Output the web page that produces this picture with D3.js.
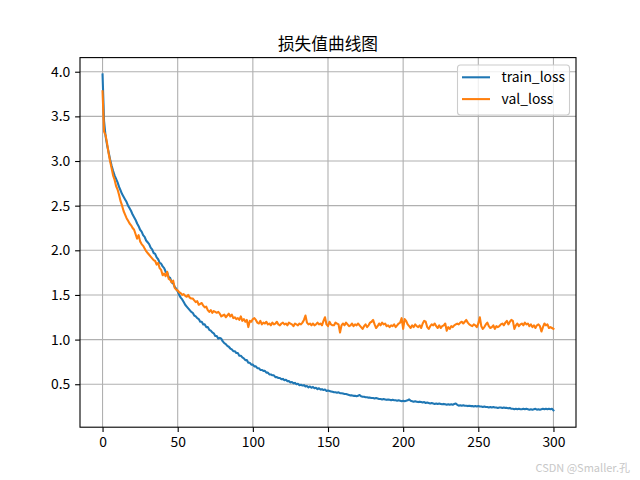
<!DOCTYPE html>
<html><head><meta charset="utf-8">
<script src="https://cdn.jsdelivr.net/npm/d3@7"></script>
<style>body{margin:0;background:#fff}svg{display:block}</style>
</head><body>
<script>
const title = "损失值曲线图";
const seriesNames = ["train_loss", "val_loss"];
const xTicks = [0, 50, 100, 150, 200, 250, 300];
const yTicks = [0.5, 1.0, 1.5, 2.0, 2.5, 3.0, 3.5, 4.0];
const trainLoss = [
3.97,3.45,3.28,3.18,3.10,3.02,2.95,2.89,2.84,2.80,
2.76,2.71,2.67,2.63,2.60,2.57,2.54,2.50,2.47,2.44,
2.40,2.37,2.34,2.30,2.27,2.23,2.21,2.17,2.15,2.11,
2.09,2.07,2.03,2.01,1.97,1.96,1.92,1.90,1.86,1.85,
1.82,1.80,1.76,1.75,1.70,1.69,1.64,1.63,1.59,1.57,
1.54,1.50,1.47,1.45,1.42,1.39,1.37,1.35,1.33,1.31,
1.30,1.27,1.26,1.24,1.23,1.20,1.20,1.17,1.17,1.14,
1.14,1.11,1.10,1.08,1.07,1.04,1.04,1.01,1.02,1.01,
0.98,0.96,0.95,0.93,0.92,0.90,0.89,0.87,0.87,0.85,
0.85,0.82,0.82,0.80,0.79,0.77,0.77,0.74,0.74,0.72,
0.72,0.70,0.70,0.68,0.68,0.66,0.66,0.65,0.65,0.63,
0.63,0.61,0.61,0.60,0.60,0.58,0.58,0.57,0.57,0.555,
0.56,0.545,0.55,0.535,0.535,0.52,0.525,0.51,0.515,0.50,
0.505,0.49,0.495,0.485,0.49,0.475,0.48,0.465,0.475,0.46,
0.47,0.455,0.46,0.445,0.455,0.44,0.445,0.435,0.44,0.425,
0.43,0.425,0.42,0.415,0.41,0.41,0.405,0.41,0.40,0.40,
0.395,0.39,0.39,0.385,0.38,0.375,0.375,0.37,0.37,0.365,
0.37,0.38,0.365,0.36,0.36,0.355,0.355,0.35,0.35,0.345,
0.345,0.34,0.345,0.34,0.335,0.335,0.33,0.335,0.33,0.325,
0.33,0.325,0.32,0.325,0.32,0.32,0.315,0.32,0.315,0.31,
0.315,0.31,0.315,0.32,0.33,0.315,0.31,0.305,0.31,0.305,
0.30,0.305,0.30,0.295,0.30,0.29,0.295,0.29,0.285,0.29,
0.285,0.28,0.285,0.28,0.285,0.28,0.275,0.28,0.275,0.27,
0.275,0.27,0.275,0.27,0.28,0.285,0.27,0.26,0.265,0.26,
0.265,0.26,0.26,0.255,0.26,0.255,0.255,0.25,0.255,0.25,
0.255,0.25,0.25,0.245,0.25,0.245,0.245,0.24,0.245,0.24,
0.245,0.24,0.24,0.235,0.24,0.24,0.235,0.24,0.235,0.235,
0.23,0.235,0.225,0.225,0.22,0.225,0.22,0.225,0.22,0.22,
0.225,0.22,0.225,0.22,0.215,0.22,0.215,0.22,0.225,0.215,
0.22,0.215,0.22,0.225,0.22,0.225,0.22,0.225,0.22,0.225,
0.207];
const valLoss = [
3.78,3.33,3.29,3.20,3.09,3.00,2.92,2.84,2.79,2.72,
2.68,2.62,2.55,2.50,2.44,2.40,2.36,2.33,2.30,2.28,
2.25,2.23,2.18,2.13,2.17,2.10,2.07,2.05,2.02,1.99,
1.97,1.95,1.93,1.91,1.89,1.88,1.84,1.86,1.80,1.78,
1.72,1.74,1.71,1.76,1.68,1.67,1.64,1.66,1.58,1.56,
1.55,1.53,1.52,1.50,1.51,1.49,1.48,1.50,1.47,1.46,
1.46,1.44,1.42,1.43,1.39,1.40,1.41,1.38,1.36,1.37,
1.33,1.31,1.33,1.30,1.32,1.31,1.30,1.31,1.29,1.26,
1.27,1.28,1.25,1.27,1.29,1.26,1.28,1.24,1.25,1.23,
1.24,1.22,1.26,1.21,1.23,1.20,1.22,1.14,1.21,1.20,
1.23,1.24,1.22,1.19,1.18,1.21,1.17,1.19,1.18,1.20,
1.17,1.18,1.16,1.19,1.17,1.18,1.20,1.17,1.16,1.18,
1.19,1.17,1.18,1.16,1.19,1.18,1.17,1.15,1.18,1.17,
1.16,1.18,1.17,1.19,1.22,1.27,1.19,1.17,1.18,1.16,
1.18,1.16,1.17,1.19,1.17,1.18,1.16,1.21,1.25,1.17,
1.15,1.20,1.17,1.16,1.16,1.19,1.18,1.17,1.08,1.16,
1.18,1.16,1.19,1.17,1.15,1.16,1.18,1.15,1.17,1.16,
1.18,1.16,1.14,1.12,1.15,1.17,1.14,1.16,1.19,1.20,
1.22,1.17,1.13,1.15,1.18,1.16,1.19,1.17,1.18,1.15,
1.16,1.14,1.16,1.15,1.17,1.14,1.16,1.18,1.19,1.24,
1.12,1.23,1.21,1.17,1.15,1.13,1.16,1.14,1.17,1.15,
1.14,1.16,1.13,1.18,1.21,1.20,1.14,1.12,1.15,1.17,
1.16,1.18,1.15,1.13,1.16,1.13,1.15,1.16,1.18,1.10,
1.14,1.12,1.15,1.14,1.16,1.17,1.18,1.17,1.19,1.20,
1.18,1.20,1.22,1.19,1.17,1.16,1.15,1.17,1.16,1.14,
1.18,1.25,1.15,1.12,1.14,1.17,1.19,1.15,1.13,1.14,
1.16,1.12,1.15,1.14,1.15,1.17,1.18,1.16,1.19,1.21,
1.17,1.20,1.22,1.21,1.12,1.16,1.18,1.15,1.17,1.18,
1.16,1.19,1.17,1.18,1.15,1.17,1.14,1.16,1.13,1.16,
1.17,1.15,1.09,1.14,1.18,1.16,1.17,1.13,1.14,1.13,
1.12];
const colors = ["#1f77b4", "#ff7f0e"];

const W = 640, H = 480;
const m = {left: 80, right: 576, top: 57.6, bottom: 427.2};
const font = "'Noto Sans CJK SC', 'Microsoft YaHei', sans-serif";

const svg = d3.select("body").append("svg").attr("width", W).attr("height", H)
  .style("font-family", font);

const n = trainLoss.length;
const x = d3.scaleLinear().domain([-0.05 * (n - 1), 1.05 * (n - 1)]).range([m.left, m.right]);
const all = trainLoss.concat(valLoss);
const lo = d3.min(all), hi = d3.max(all), pad = (hi - lo) * 0.05;
const y = d3.scaleLinear().domain([lo - pad, hi + pad]).range([m.bottom, m.top]);

// grid
const g = svg.append("g");
g.selectAll(".gx").data(xTicks).join("line")
  .attr("x1", d => x(d)).attr("x2", d => x(d)).attr("y1", m.top).attr("y2", m.bottom)
  .attr("stroke", "#b0b0b0").attr("stroke-width", 1.1);
g.selectAll(".gy").data(yTicks).join("line")
  .attr("y1", d => y(d)).attr("y2", d => y(d)).attr("x1", m.left).attr("x2", m.right)
  .attr("stroke", "#b0b0b0").attr("stroke-width", 1.1);

// lines
const line = d3.line().x((d, i) => x(i)).y(d => y(d));
[trainLoss, valLoss].forEach((s, k) => {
  svg.append("path").datum(s).attr("d", line).attr("fill", "none")
    .attr("stroke", colors[k]).attr("stroke-width", 2.08)
    .attr("stroke-linejoin", "round").attr("stroke-linecap", "square");
});

// axes
const xa = svg.append("g").attr("transform", `translate(0,${m.bottom})`)
  .call(d3.axisBottom(x).tickValues(xTicks).tickSize(4.9).tickPadding(4.9).tickSizeOuter(0).tickFormat(d3.format("d")));
const ya = svg.append("g").attr("transform", `translate(${m.left},0)`)
  .call(d3.axisLeft(y).tickValues(yTicks).tickSize(4.9).tickPadding(4.9).tickSizeOuter(0).tickFormat(d3.format(".1f")));
[xa, ya].forEach(a => {
  a.select(".domain").remove();
  a.selectAll("line").attr("stroke", "#000").attr("stroke-width", 1.1);
  a.selectAll("text").attr("fill", "#000").style("font-size", "13.9px").style("font-family", font);
});

// spines
svg.append("rect").attr("x", m.left).attr("y", m.top)
  .attr("width", m.right - m.left).attr("height", m.bottom - m.top)
  .attr("fill", "none").attr("stroke", "#000").attr("stroke-width", 1.1);

// title
svg.append("text").attr("x", (m.left + m.right) / 2).attr("y", 50)
  .attr("text-anchor", "middle").style("font-size", "16.7px").attr("fill", "#000").text(title);

// legend
const lg = svg.append("g");
lg.append("rect").attr("x", 457.5).attr("y", 65).attr("width", 112).attr("height", 50)
  .attr("rx", 3).attr("fill", "rgba(255,255,255,0.8)").attr("stroke", "#cccccc").attr("stroke-width", 1.1);
seriesNames.forEach((nm, k) => {
  const yy = 77.3 + k * 21.8;
  lg.append("line").attr("x1", 462).attr("x2", 490).attr("y1", yy).attr("y2", yy)
    .attr("stroke", colors[k]).attr("stroke-width", 2.08);
  lg.append("text").attr("x", 501.5).attr("y", yy + 5).style("font-size", "13.9px")
    .attr("fill", "#000").text(nm);
});

// watermark
svg.append("text").attr("x", 630).attr("y", 472).attr("text-anchor", "end")
  .style("font-size", "11px").attr("fill", "#c8c8c8").text("CSDN @Smaller.孔");
</script>
</body></html>
